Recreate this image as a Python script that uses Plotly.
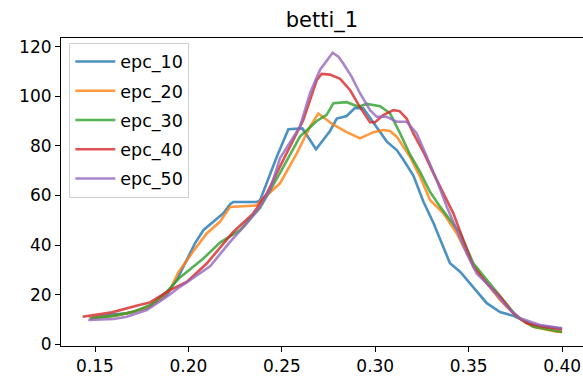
import plotly.graph_objects as go

series_names = ["epc_10", "epc_20", "epc_30", "epc_40", "epc_50"]
colors = ["#1f77b4", "#ff7f0e", "#2ca02c", "#d62728", "#9467bd"]

x_epc10 = [0.147, 0.159, 0.167, 0.1777, 0.1884, 0.1946, 0.2035, 0.208, 0.2133, 0.2187, 0.2223, 0.224,
           0.2366, 0.2383, 0.2473, 0.2535, 0.261, 0.2683, 0.2758, 0.2794, 0.2847, 0.2892, 0.2936, 0.299,
           0.3043, 0.3062, 0.3115, 0.315, 0.3204, 0.3258, 0.3311, 0.34, 0.3454, 0.3525, 0.3597, 0.3668,
           0.3739, 0.3846, 0.40]
y_epc10 = [10.5, 12.0, 12.5, 14.5, 20.0, 27.2, 40.7, 46.0, 49.4, 52.8, 56.5, 57.4,
           57.4, 58.0, 75.6, 86.7, 87.0, 78.6, 86.0, 91.0, 92.0, 95.3, 95.1, 89.5,
           84.0, 81.7, 78.3, 74.5, 68.0, 57.5, 49.0, 32.7, 29.3, 23.2, 16.6, 13.0,
           11.5, 7.8, 6.3]

x_epc20 = [0.1473, 0.16, 0.17, 0.18, 0.1901, 0.1946, 0.2026, 0.2098, 0.2169, 0.2223, 0.2366,
           0.2383, 0.249, 0.258, 0.2651, 0.2695, 0.2776, 0.2847, 0.2919, 0.299, 0.3043, 0.3079,
           0.3115, 0.3186, 0.324, 0.3293, 0.3365, 0.3436, 0.3508, 0.3597, 0.3668, 0.3757, 0.3846,
           0.3971, 0.40]
y_epc20 = [10.5, 11.5, 13.0, 15.5, 21.9, 29.0, 37.5, 44.7, 49.4, 55.4, 56.0,
           57.5, 64.9, 77.0, 87.7, 93.0, 88.5, 85.5, 83.0, 85.5, 86.4, 86.0,
           83.7, 75.6, 67.6, 58.2, 52.8, 44.8, 34.0, 24.6, 17.9, 11.2, 7.1,
           5.1, 5.0]

x_epc30 = [0.148, 0.16, 0.17, 0.18, 0.188, 0.1955, 0.208, 0.2169, 0.2276, 0.2383, 0.249, 0.2597,
           0.2687, 0.274, 0.2776, 0.2847, 0.291, 0.2955, 0.3026, 0.3079, 0.3133, 0.3186, 0.324,
           0.3293, 0.3347, 0.34, 0.3454, 0.3525, 0.3597, 0.3668, 0.3757, 0.3846, 0.40]
y_epc30 = [10.5, 11.5, 13.0, 16.0, 21.0, 27.0, 34.6, 41.0, 46.0, 55.0, 69.0, 83.7,
           90.0, 92.5, 97.2, 97.6, 95.8, 96.9, 96.0, 93.1, 85.0, 76.5, 69.5,
           61.5, 55.5, 50.1, 44.8, 32.7, 25.9, 19.2, 11.2, 7.1, 5.0]

x_epc40 = [0.1434, 0.159, 0.1732, 0.1794, 0.1901, 0.1991, 0.2098, 0.224, 0.2347, 0.2419, 0.249,
           0.2615, 0.2687, 0.2713, 0.2758, 0.2812, 0.2865, 0.2919, 0.2972, 0.2999, 0.3043, 0.3097,
           0.313, 0.3168, 0.3204, 0.3258, 0.3311, 0.3347, 0.3418, 0.3472, 0.3525, 0.3597, 0.3668,
           0.3739, 0.381, 0.3899, 0.40]
y_epc40 = [11.1, 12.9, 15.8, 16.9, 21.9, 25.2, 32.6, 45.3, 52.8, 60.8, 71.6,
           90.4, 106.5, 109.0, 108.7, 107.0, 102.5, 95.5, 89.5, 89.5, 92.4, 94.4,
           94.0, 91.0, 85.0, 77.5, 69.0, 63.5, 52.8, 42.0, 31.3, 24.6, 19.2,
           12.5, 8.5, 7.1, 6.0]

x_epc50 = [0.1464, 0.16, 0.167, 0.1777, 0.1884, 0.1955, 0.2116, 0.2223, 0.2312, 0.2383, 0.2437,
           0.249, 0.2597, 0.2651, 0.2704, 0.2749, 0.2772, 0.2803, 0.2829, 0.2874, 0.2919, 0.2972,
           0.3008, 0.3061, 0.3115, 0.3168, 0.3222, 0.3276, 0.3329, 0.3383, 0.3436, 0.349, 0.3543,
           0.3615, 0.3704, 0.3775, 0.3882, 0.40]
y_epc50 = [9.8, 10.2, 11.1, 13.8, 19.2, 23.2, 31.5, 41.3, 48.7, 55.4, 62.2,
           75.0, 87.7, 101.2, 110.6, 115.2, 117.5, 115.9, 113.2, 107.8, 101.1, 94.4,
           91.7, 91.7, 89.7, 89.7, 85.0, 75.6, 66.2, 55.5, 46.1, 36.7, 28.6,
           23.2, 15.2, 10.5, 7.8, 6.5]

x_tick_vals = [0.15, 0.20, 0.25, 0.30, 0.35, 0.40]
x_tick_labels = ["0.15", "0.20", "0.25", "0.30", "0.35", "0.40"]
y_tick_vals = [0, 20, 40, 60, 80, 100, 120]
y_tick_labels = ["0", "20", "40", "60", "80", "100", "120"]
title_text = "betti_1"

xs = [x_epc10, x_epc20, x_epc30, x_epc40, x_epc50]
ys = [y_epc10, y_epc20, y_epc30, y_epc40, y_epc50]

fig = go.Figure()
for name, color, xv, yv in zip(series_names, colors, xs, ys):
    fig.add_trace(go.Scatter(x=xv, y=yv, mode="lines", name=name, legendgroup=name,
                             line=dict(color=color, width=2.6), opacity=0.8))

font_family = "DejaVu Sans"
fig.update_layout(
    width=583, height=378,
    margin=dict(l=61, r=0, t=38, b=32, autoexpand=False),
    paper_bgcolor="white", plot_bgcolor="white",
    font=dict(family=font_family, size=17, color="black"),
    title=dict(text=title_text, x=0.5, xref="paper", y=1 - 20 / 378, yref="container",
               xanchor="center", yanchor="middle", font=dict(size=21, color="black")),
    showlegend=True,
    legend=dict(x=0.016, y=0.985, xanchor="left", yanchor="top",
                bgcolor="rgba(255,255,255,0.8)", bordercolor="#d0d0d0", borderwidth=1,
                font=dict(size=17.5, color="black"), traceorder="grouped", tracegroupgap=3.5,
                itemwidth=40),
    xaxis=dict(range=[0.1318, 0.4112], tickvals=x_tick_vals, ticktext=x_tick_labels,
               showgrid=False, zeroline=False, showline=True, linecolor="black", linewidth=1.1,
               mirror=True, ticks="outside", ticklen=5, tickwidth=1.1, tickcolor="black"),
    yaxis=dict(range=[-0.65, 123.45], tickvals=y_tick_vals, ticktext=y_tick_labels,
               showgrid=False, zeroline=False, showline=True, linecolor="black", linewidth=1.1,
               mirror=False, ticks="outside", ticklen=5, tickwidth=1.1, tickcolor="black"),
)

fig.write_html("out.html", config={"displayModeBar": False},
               post_script="document.body.style.margin='0';")
